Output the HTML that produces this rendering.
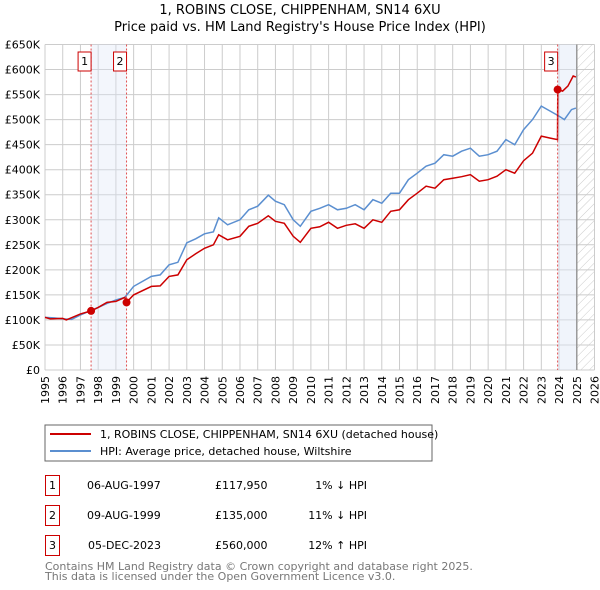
<!DOCTYPE html>
<html><head><meta charset="utf-8"><style>
body{margin:0;background:#fff;}
svg{display:block;font-family:"DejaVu Sans","Liberation Sans",sans-serif;}
</style></head><body>
<svg id="c" width="600" height="590" xmlns="http://www.w3.org/2000/svg">
<defs><pattern id="hatch" width="6" height="6" patternUnits="userSpaceOnUse" patternTransform="rotate(45)"><line x1="0" y1="0" x2="0" y2="6" stroke="#ccc" stroke-width="1"/></pattern></defs>
<text x="300" y="14" text-anchor="middle" font-size="13" fill="#000">1, ROBINS CLOSE, CHIPPENHAM, SN14 6XU</text>
<text x="300" y="31" text-anchor="middle" font-size="13" fill="#000">Price paid vs. HM Land Registry's House Price Index (HPI)</text>
<g id="grid"></g><g id="shade"></g><g id="lines"></g><g id="marks"></g><g id="axes"></g>
<rect x="45" y="425" width="387" height="36" fill="#fff" stroke="#666"/>
<line x1="50" y1="434" x2="91" y2="434" stroke="#cc0000" stroke-width="2"/>
<text x="100" y="438" font-size="11">1, ROBINS CLOSE, CHIPPENHAM, SN14 6XU (detached house)</text>
<line x1="50" y1="451" x2="91" y2="451" stroke="#5b8fd0" stroke-width="2"/>
<text x="100" y="455" font-size="11">HPI: Average price, detached house, Wiltshire</text>
<g font-size="11">
<rect x="45.5" y="475.5" width="14" height="20" fill="none" stroke="#cc0000"/><text x="52.5" y="489" text-anchor="middle">1</text>
<text x="87" y="489">06-AUG-1997</text><text x="215" y="489">£117,950</text><text x="367" y="489" text-anchor="end">1% ↓ HPI</text>
<rect x="45.5" y="505.5" width="14" height="20" fill="none" stroke="#cc0000"/><text x="52.5" y="519" text-anchor="middle">2</text>
<text x="87" y="519">09-AUG-1999</text><text x="215" y="519">£135,000</text><text x="367" y="519" text-anchor="end">11% ↓ HPI</text>
<rect x="45.5" y="535.5" width="14" height="20" fill="none" stroke="#cc0000"/><text x="52.5" y="549" text-anchor="middle">3</text>
<text x="88" y="549">05-DEC-2023</text><text x="215" y="549">£560,000</text><text x="367" y="549" text-anchor="end">12% ↑ HPI</text>
</g>
<text x="45" y="570" font-size="11" fill="#777">Contains HM Land Registry data © Crown copyright and database right 2025.</text>
<text x="45" y="580" font-size="11" fill="#777">This data is licensed under the Open Government Licence v3.0.</text>
</svg>
<script>
const hpiYears=[1995,1995.5,1996,1996.5,1997,1997.6,1998,1998.5,1999,1999.5,2000,2000.5,2001,2001.5,2002,2002.5,2003,2003.5,2004,2004.5,2004.8,2005.3,2006,2006.5,2007,2007.6,2008,2008.5,2009,2009.4,2010,2010.5,2011,2011.5,2012,2012.5,2013,2013.5,2014,2014.5,2015,2015.5,2016,2016.5,2017,2017.5,2018,2018.5,2019,2019.5,2020,2020.5,2021,2021.5,2022,2022.5,2023,2023.5,2024,2024.3,2024.7,2024.95];
const hpiValues=[105,104,102,101,110,119,125,133,140,145,167,177,187,190,210,215,254,262,272,276,304,290,300,320,327,349,337,330,300,287,317,323,330,320,323,330,320,340,333,353,353,380,393,407,413,430,427,437,443,427,430,437,460,450,480,500,527,517,507,500,520,523];
const ppYears=[1995,1995.3,1996,1996.2,1997,1997.6,1998,1998.5,1999,1999.5,1999.6,2000,2001,2001.5,2002,2002.5,2003,2003.5,2004,2004.5,2004.8,2005.3,2006,2006.5,2007,2007.6,2008,2008.5,2009,2009.4,2010,2010.5,2011,2011.5,2012,2012.5,2013,2013.5,2014,2014.5,2015,2015.5,2016,2016.5,2017,2017.5,2018,2018.5,2019,2019.5,2020,2020.5,2021,2021.5,2022,2022.5,2023,2023.5,2023.91,2023.93,2024.2,2024.5,2024.8,2024.95];
const ppValues=[105,102,103,100,112,118,125,135,137,145,135,150,167,168,187,190,220,232,243,250,270,260,267,287,293,308,297,293,267,255,283,286,295,283,289,292,283,300,295,317,320,340,353,367,363,380,383,386,390,377,380,387,400,393,418,433,467,463,460,560,557,567,587,585];
const saleYears=[1997.6,1999.6,2023.92];
const saleValues=[118,135,560];
const saleLabels=["1","2","3"];
const yTicks=[0,50,100,150,200,250,300,350,400,450,500,550,600,650];
const xTicks=[1995,1996,1997,1998,1999,2000,2001,2002,2003,2004,2005,2006,2007,2008,2009,2010,2011,2012,2013,2014,2015,2016,2017,2018,2019,2020,2021,2022,2023,2024,2025,2026];
const X0=45,X1=594.5,Y0=370,Y1=44.5;
const sx=y=>X0+(y-1995)/(2026-1995)*(X1-X0);
const sy=v=>Y0-v/650*(Y0-Y1);
const NS="http://www.w3.org/2000/svg";
function mk(p,t,a){const e=document.createElementNS(NS,t);for(const k in a)e.setAttribute(k,a[k]);document.getElementById(p).appendChild(e);return e;}
const g=document.getElementById('grid');
yTicks.forEach(v=>{
 const l=mk('grid','line',{x1:X0,x2:X1,y1:sy(v),y2:sy(v),stroke:'#ccc','stroke-width':1});
 
 
 const t=mk('axes','text',{x:40,y:sy(v)+4,'text-anchor':'end','font-size':11});
 t.textContent=v===0?'£0':'£'+v+'K';
 
 
});
xTicks.forEach(y=>{
 const l=mk('grid','line',{x1:sx(y),x2:sx(y),y1:Y1,y2:Y0,stroke:'#ccc','stroke-width':1});
 
 
 const t=mk('axes','text',{x:sx(y)+4,y:Y0+6,'text-anchor':'end','font-size':11,transform:`rotate(-90 ${sx(y)+4} ${Y0+6})`});
 t.textContent=y;
 
 
});
let s1=mk('shade','rect',{x:sx(saleYears[0]),y:Y1,width:sx(saleYears[1])-sx(saleYears[0]),height:Y0-Y1,fill:'#dde6f7','fill-opacity':0.35});


let s2=mk('shade','rect',{x:sx(saleYears[2]),y:Y1,width:sx(2025)-sx(saleYears[2]),height:Y0-Y1,fill:'#dde6f7','fill-opacity':0.45});


let h=mk('shade','rect',{x:sx(2025),y:Y1,width:X1-sx(2025),height:Y0-Y1,fill:'url(#hatch)'});


let hl=mk('shade','line',{x1:sx(2025),x2:sx(2025),y1:Y1,y2:Y0,stroke:'#999','stroke-width':1.5});


const pts=(xs,vs)=>xs.map((x,i)=>sx(x).toFixed(1)+','+sy(vs[i]).toFixed(1)).join(' ');
let b=mk('lines','polyline',{points:pts(hpiYears,hpiValues),fill:'none',stroke:'#5b8fd0','stroke-width':1.5});


let r=mk('lines','polyline',{points:pts(ppYears,ppValues),fill:'none',stroke:'#cc0000','stroke-width':1.5});


saleYears.forEach((y,i)=>{
 const d=mk('marks','line',{x1:sx(y),x2:sx(y),y1:Y1,y2:Y0,stroke:'#e05050','stroke-width':1,'stroke-dasharray':'2,2'});
 
 
 const c=mk('marks','circle',{cx:sx(y),cy:sy(saleValues[i]),r:4,fill:'#cc0000'});
 
 
 const bx=mk('marks','rect',{x:sx(y)-13,y:52,width:13,height:19,fill:'#fff',stroke:'#cc0000'});
 
 
 const t=mk('marks','text',{x:sx(y)-6.5,y:65,'text-anchor':'middle','font-size':11});
 t.textContent=saleLabels[i];
 
 
});
</script>
</body></html>
